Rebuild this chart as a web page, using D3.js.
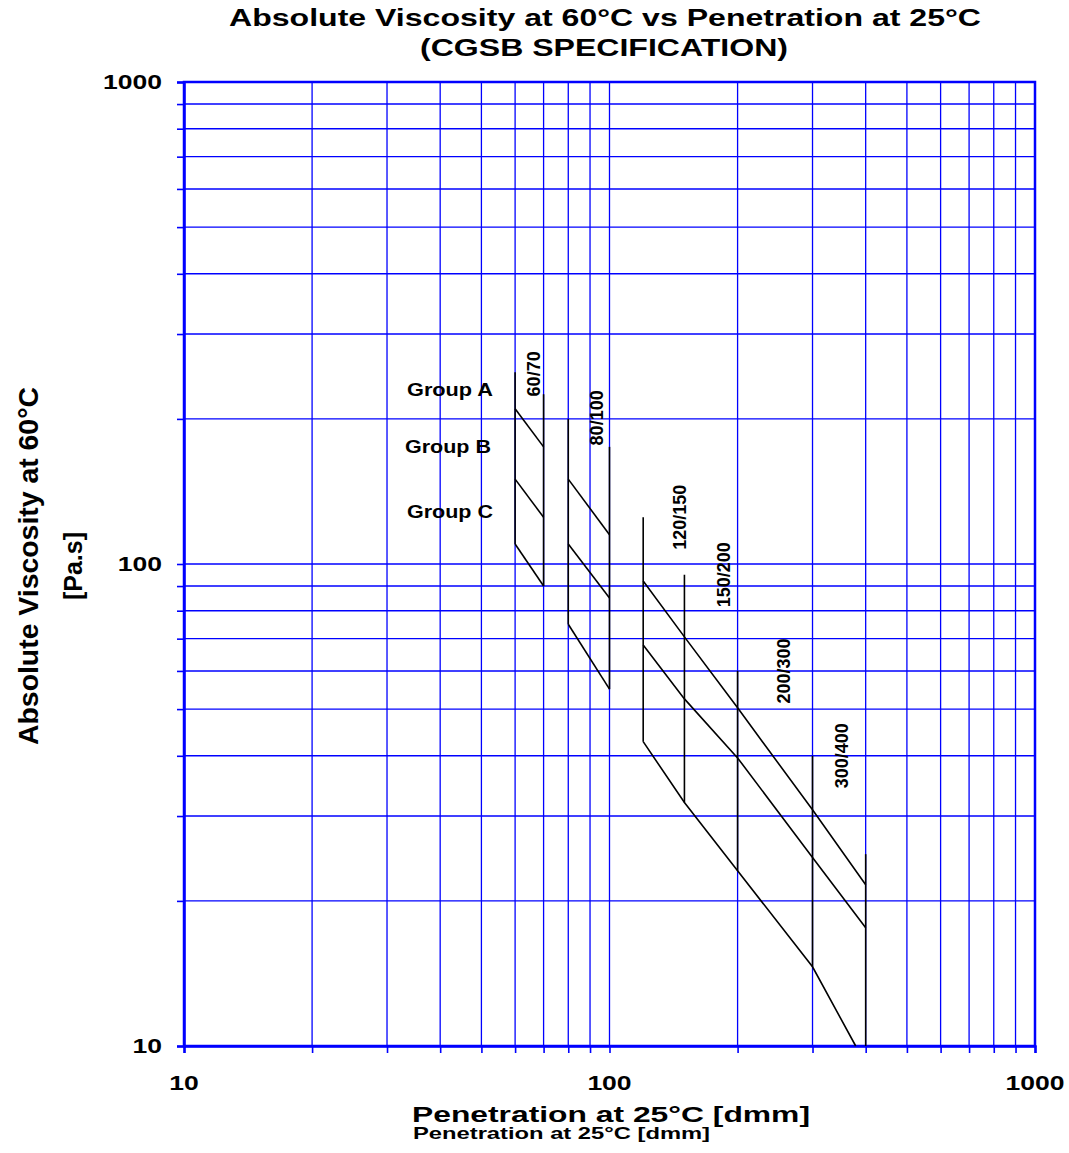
<!DOCTYPE html>
<html>
<head>
<meta charset="utf-8">
<script src="https://cdn.jsdelivr.net/npm/d3@7"></script>
<style>
  html, body { margin: 0; padding: 0; background: #fff; }
  text { font-family: "Liberation Sans", Arial, sans-serif; font-weight: bold; fill: #000; }
</style>
</head>
<body>
<svg id="chart" width="1069" height="1153"></svg>
<script>
// ---- Data ----
const titleLines = ["Absolute Viscosity at 60°C vs Penetration at 25°C", "(CGSB SPECIFICATION)"];
const xTitle = "Penetration at 25°C [dmm]";
const yTitleLines = ["Absolute Viscosity at 60°C", "[Pa.s]"];
const xMajorTicks = [10, 100, 1000];
const yMajorTicks = [10, 100, 1000];
const gridValues = [10,20,30,40,50,60,70,80,90,100,200,300,400,500,600,700,800,900,1000];

const grades = ["60/70", "80/100", "120/150", "150/200", "200/300", "300/400"];
const gradeLabelPen = [68.7, 96.5, 151.3, 192, 265.6, 363.5];
const gradeLabelVisc = [248, 201, 125, 95, 60, 40];

const groupNames = ["Group A", "Group B", "Group C"];

// vertical limit lines (penetration boundaries)
const verticalPen  = [60, 70, 80, 100, 120, 150, 200, 300, 400];
const verticalLow  = [110, 90, 75, 55, 42.8, 32, 23.1, 14.6, 10];
const verticalHigh = [250, 225, 200, 175, 125, 95, 60, 40, 25];

// group minimum-viscosity lines
const groupAPen  = [[60, 70], [80, 100], [120, 150, 200, 300, 400]];
const groupAVisc = [[210, 175], [150, 115], [92.2, 70.6, 50.3, 30.9, 21.6]];
const groupBPen  = [[60, 70], [80, 100], [120, 150, 200, 300, 400]];
const groupBVisc = [[150, 125], [110, 85], [67.9, 52.5, 39.6, 24.6, 17.6]];
const groupCPen  = [[60, 70], [80, 100], [120, 150, 200, 300, 379]];
const groupCVisc = [[110, 90], [75, 55], [42.8, 32, 23.1, 14.6, 10]];

// ---- Layout ----
const L = 184, R = 1035, T = 82, B = 1046;
const svg = d3.select("#chart");
const x = d3.scaleLog().domain([10, 1000]).range([L, R]);
const y = d3.scaleLog().domain([10, 1000]).range([B, T]);
const blue = "#0000ff";

// grid
const g = svg.append("g");
g.selectAll("line.vg").data(gridValues).join("line")
  .attr("x1", d => x(d)).attr("x2", d => x(d)).attr("y1", T).attr("y2", B)
  .attr("stroke", blue).attr("stroke-width", 1.3);
g.selectAll("line.hg").data(gridValues).join("line")
  .attr("class","hg")
  .attr("y1", d => y(d)).attr("y2", d => y(d)).attr("x1", L).attr("x2", R)
  .attr("stroke", blue).attr("stroke-width", 1.4);

// axes with ticks
const xAxis = d3.axisBottom(x).tickValues(gridValues).tickSize(7).tickFormat("");
const yAxis = d3.axisLeft(y).tickValues(gridValues).tickSize(7).tickFormat("");
const xa = svg.append("g").attr("transform", `translate(0,${B})`).call(xAxis);
const ya = svg.append("g").attr("transform", `translate(${L},0)`).call(yAxis);
[xa, ya].forEach(a => {
  a.select(".domain").attr("stroke", blue).attr("stroke-width", 2.5);
  a.selectAll(".tick line").attr("stroke", blue).attr("stroke-width", 1.6);
});
// frame
svg.append("rect").attr("x", L).attr("y", T).attr("width", R - L).attr("height", B - T)
  .attr("fill", "none").attr("stroke", blue).attr("stroke-width", 2.5);

// tick labels
const digitW = 14.75;
svg.selectAll("text.xt").data(xMajorTicks).join("text")
  .attr("x", d => x(d)).attr("y", 1090).attr("text-anchor", "middle")
  .attr("font-size", 20)
  .attr("textLength", d => String(d).length * digitW).attr("lengthAdjust", "spacingAndGlyphs")
  .text(d => d);
svg.selectAll("text.yt").data(yMajorTicks).join("text")
  .attr("x", 162).attr("y", d => y(d) + 7).attr("text-anchor", "end")
  .attr("font-size", 20)
  .attr("textLength", d => String(d).length * digitW).attr("lengthAdjust", "spacingAndGlyphs")
  .text(d => d);

// titles
svg.append("text").attr("x", 229).attr("y", 26).attr("font-size", 23)
  .attr("textLength", 752).attr("lengthAdjust", "spacingAndGlyphs").text(titleLines[0]);
svg.append("text").attr("x", 420).attr("y", 56).attr("font-size", 23)
  .attr("textLength", 368).attr("lengthAdjust", "spacingAndGlyphs").text(titleLines[1]);

svg.append("text").attr("x", 412).attr("y", 1122).attr("font-size", 22)
  .attr("textLength", 398).attr("lengthAdjust", "spacingAndGlyphs").text(xTitle);
svg.append("text").attr("x", 413).attr("y", 1139).attr("font-size", 17)
  .attr("textLength", 297).attr("lengthAdjust", "spacingAndGlyphs").text(xTitle);

svg.append("text").attr("transform", "translate(38,566) rotate(-90)")
  .attr("text-anchor", "middle").attr("font-size", 27)
  .attr("textLength", 358).attr("lengthAdjust", "spacingAndGlyphs").text(yTitleLines[0]);
svg.append("text").attr("transform", "translate(82,566) rotate(-90)")
  .attr("text-anchor", "middle").attr("font-size", 25)
  .attr("textLength", 68).attr("lengthAdjust", "spacingAndGlyphs").text(yTitleLines[1]);

// data lines
const line = d3.line().x(d => x(d[0])).y(d => y(d[1]));
const lines = svg.append("g");
verticalPen.forEach((p, i) => {
  lines.append("path").attr("d", line([[p, verticalLow[i]], [p, verticalHigh[i]]]))
    .attr("fill", "none").attr("stroke", "#000").attr("stroke-width", 1.6);
});
[[groupAPen, groupAVisc], [groupBPen, groupBVisc], [groupCPen, groupCVisc]].forEach(([P, V]) => {
  P.forEach((ps, j) => {
    lines.append("path").attr("d", line(ps.map((p, k) => [p, V[j][k]])))
      .attr("fill", "none").attr("stroke", "#000").attr("stroke-width", 1.6);
  });
});

// grade labels (rotated)
grades.forEach((gname, i) => {
  const px = x(gradeLabelPen[i]), py = y(gradeLabelVisc[i]);
  svg.append("text").attr("transform", `translate(${px},${py}) rotate(-90)`)
    .attr("text-anchor", "middle").attr("font-size", 18).text(gname);
});

// group labels
const groupLabelY = [396, 453, 518];
const groupLabelX = [407, 405, 407];
groupNames.forEach((n, i) => {
  svg.append("text").attr("x", groupLabelX[i]).attr("y", groupLabelY[i]).attr("font-size", 18)
    .attr("textLength", 86).attr("lengthAdjust", "spacingAndGlyphs").text(n);
});
</script>
</body>
</html>
